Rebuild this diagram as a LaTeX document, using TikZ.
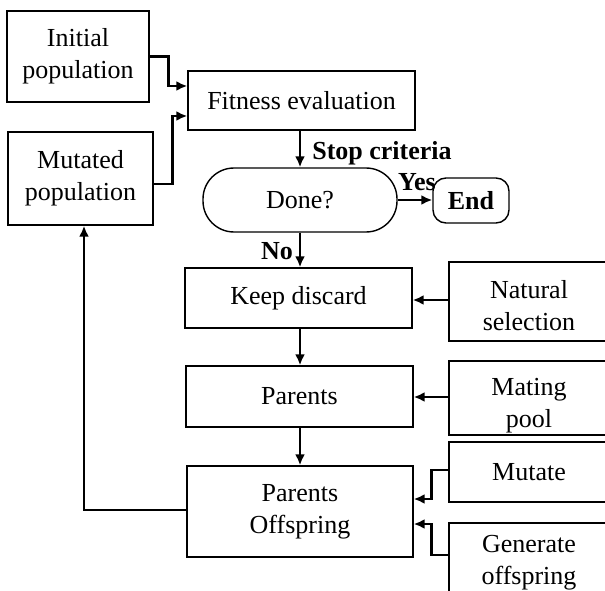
\documentclass[tikz,border=0pt]{standalone}
\usepackage{fontspec}
\setmainfont{Liberation Serif}
\usepackage{tikz}
\usetikzlibrary{arrows.meta}

\tikzset{
  blk/.style={draw, line width=1.4pt, align=center, inner sep=0pt,
    font=\fontsize{26}{32}\selectfont},
  lbl/.style={inner sep=0pt, font=\fontsize{26}{32}\selectfont\bfseries},
  flow/.style={->, >={Latex[length=11pt,width=10pt]}, line width=2.6pt}
}

\begin{document}
\begin{tikzpicture}[x=1pt, y=-1pt]
    \useasboundingbox (0,0) rectangle (605,591);
    \clip (0,0) rectangle (605,591);

    % left column
    \node[blk, minimum width=142pt, minimum height=91pt] (init) at (78,56.5) {Initial\\population};
    \node[blk, minimum width=145pt, minimum height=93pt] (mut) at (80.5,178.5) {Mutated\\population};

    % main chain
    \node[blk, minimum width=227pt, minimum height=59pt] (fit) at (301.5,100.5) {Fitness evaluation};
    \node[blk, rounded corners=31pt, minimum width=194pt, minimum height=64pt] (done) at (300,200) {Done?};
    \node[blk, rounded corners=13pt, minimum width=76pt, minimum height=45pt, font=\fontsize{26}{32}\selectfont\bfseries] (end) at (471,200.5) {End};
    \node[blk, minimum width=227pt, minimum height=60pt] (keep) at (298.5,298) {Keep discard};
    \node[blk, minimum width=227pt, minimum height=61pt] (par) at (299.5,396.5) {Parents};
    \node[blk, minimum width=226pt, minimum height=91pt] (offs) at (300,511.5) {Parents\\Offspring};

    % right column
    \node[blk, minimum width=160pt, minimum height=79pt] (nat) at (529,301.5) {\rule{0pt}{26pt}Natural\\selection};
    \node[blk, minimum width=160pt, minimum height=74pt] (mate) at (529,398) {\rule{0pt}{32pt}Mating\\pool};
    \node[blk, minimum width=160pt, minimum height=60pt] (mutate) at (529,472) {Mutate};
    \node[blk, minimum width=160pt, minimum height=80pt] (gen) at (529,563) {Generate\\offspring};

    % labels
    \node[lbl] (stop) at (382,153) {Stop criteria};
    \node[lbl] (yes) at (417,182) {Yes};
    \node[lbl] (no) at (277,251) {No};

    % connectors
    \draw[flow] (init.east) -- ++(19,0) |- ([yshift=14.5pt]fit.west);
    \draw[flow] ([yshift=-5.5pt]mut.east) -- ++(19,0) |- ([yshift=-15.5pt]fit.west);
    \draw[flow] (fit.south -| done.north) -- (done.north);
    \draw[flow] (done.east) -- (end.west |- done.east);
    \draw[flow] (done.south) -- (keep.north -| done.south);
    \draw[flow] (nat.west |- 0,300) -- (keep.east |- 0,300);
    \draw[flow] (keep.south -| done.south) -- (par.north -| done.south);
    \draw[flow] (mate.west |- 0,397) -- (par.east |- 0,397);
    \draw[flow] (par.south -| done.south) -- (offs.north -| done.south);
    \draw[flow] ([yshift=2pt]mutate.west) -- ++(-17,0) |- ([yshift=12.5pt]offs.east);
    \draw[flow] ([yshift=8pt]gen.west) -- ++(-17,0) |- ([yshift=-12.5pt]offs.east);
    \draw[flow] ([yshift=1.5pt]offs.west) -| ([xshift=3.5pt]mut.south);
\end{tikzpicture}
\end{document}
